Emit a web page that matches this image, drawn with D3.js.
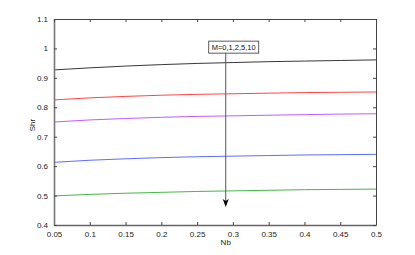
<!DOCTYPE html>
<html><head><meta charset="utf-8">
<script src="https://cdn.jsdelivr.net/npm/d3@7/dist/d3.min.js"></script>
<style>body{margin:0;background:#fff}svg{display:block}text{font-family:"Liberation Sans",Arial,sans-serif}</style>
</head><body>
<svg id="c" width="415" height="255"></svg>
<script>
const nb = [0.05,0.1,0.15,0.2,0.25,0.3,0.35,0.4,0.45,0.5];
const shrM0  = [0.927,0.934,0.940,0.945,0.949,0.952,0.955,0.957,0.959,0.961];
const shrM1  = [0.825,0.832,0.837,0.841,0.844,0.846,0.848,0.850,0.851,0.852];
const shrM2  = [0.750,0.757,0.762,0.766,0.769,0.771,0.773,0.775,0.777,0.778];
const shrM5  = [0.613,0.620,0.625,0.629,0.632,0.634,0.636,0.638,0.639,0.640];
const shrM10 = [0.499,0.504,0.508,0.511,0.514,0.516,0.518,0.520,0.521,0.522];
const seriesColors = ["#222222","#ff3030","#b24dff","#4d5cff","#30b030"];
const xTicks = [0.05,0.1,0.15,0.2,0.25,0.3,0.35,0.4,0.45,0.5];
const yTicks = [0.4,0.5,0.6,0.7,0.8,0.9,1,1.1];
const annotation = "M=0,1,2,5,10";
const arrowX = 0.29, arrowTop = 0.984, arrowBottom = 0.461;

const svg = d3.select("#c");
const L=54,R=376,T=19,B=225;
const x = d3.scaleLinear().domain([0.05,0.5]).range([L,R]);
const y = d3.scaleLinear().domain([0.4,1.1]).range([B,T]);
const axisColor="#444";

const series=[shrM0,shrM1,shrM2,shrM5,shrM10];
const line=d3.line().x((d,i)=>x(nb[i])).y(d=>y(d)).curve(d3.curveMonotoneX);
series.forEach((s,k)=>{
  svg.append("path").datum(s).attr("d",line).attr("fill","none")
    .attr("stroke",seriesColors[k]).attr("stroke-width",0.9);
});

const fmt=d=>String(+d.toFixed(2));
const gx=svg.append("g").attr("transform",`translate(0,${B})`)
  .call(d3.axisBottom(x).tickValues(xTicks).tickFormat(fmt).tickSizeInner(-3).tickSizeOuter(0).tickPadding(6));
const gy=svg.append("g").attr("transform",`translate(${L},0)`)
  .call(d3.axisLeft(y).tickValues(yTicks).tickFormat(fmt).tickSizeInner(-3).tickSizeOuter(0).tickPadding(6));
const gt=svg.append("g").attr("transform",`translate(0,${T})`)
  .call(d3.axisTop(x).tickValues(xTicks).tickFormat("").tickSizeInner(-3).tickSizeOuter(0));
const gr=svg.append("g").attr("transform",`translate(${R},0)`)
  .call(d3.axisRight(y).tickValues(yTicks).tickFormat("").tickSizeInner(-3).tickSizeOuter(0));
[gx,gy,gt,gr].forEach(g=>{
  g.selectAll("path").attr("stroke",axisColor).attr("stroke-width",1);
  g.selectAll("line").attr("stroke",axisColor);
  g.selectAll("text").attr("fill","#222").style("font-size","8px");
});
gy.select("path").attr("stroke","#777").attr("stroke-width",1.6);
gx.select("path").attr("stroke","#666").attr("stroke-width",1.3);

svg.append("text").attr("x",x(0.29)).attr("y",245).attr("text-anchor","middle")
  .style("font-size","8px").attr("fill","#222").text("Nb");
svg.append("text").attr("transform",`translate(35,125) rotate(-90)`).attr("text-anchor","middle")
  .style("font-size","8px").attr("fill","#222").text("Shr");

const ax=x(arrowX);
const arrowTopY=y(arrowTop);
svg.append("line").attr("x1",ax).attr("x2",ax).attr("y1",arrowTopY).attr("y2",y(arrowBottom)-4)
  .attr("stroke","#555").attr("stroke-width",1);
const tipY=y(arrowBottom);
svg.append("path").attr("d",`M${ax-3},${tipY-8} L${ax},${tipY} L${ax+3},${tipY-8} L${ax},${tipY-6} Z`).attr("fill","#000");
const bx=svg.append("g");
const txt=bx.append("text").attr("x",ax+8).attr("y",arrowTopY-3).attr("text-anchor","middle")
  .style("font-size","7.5px").attr("fill","#111").text(annotation);
const bb=txt.node().getBBox();
bx.insert("rect","text").attr("x",bb.x-3).attr("y",arrowTopY-12).attr("width",bb.width+6).attr("height",12)
  .attr("fill","#fff").attr("stroke","#333").attr("stroke-width",0.8);
</script>
</body></html>
